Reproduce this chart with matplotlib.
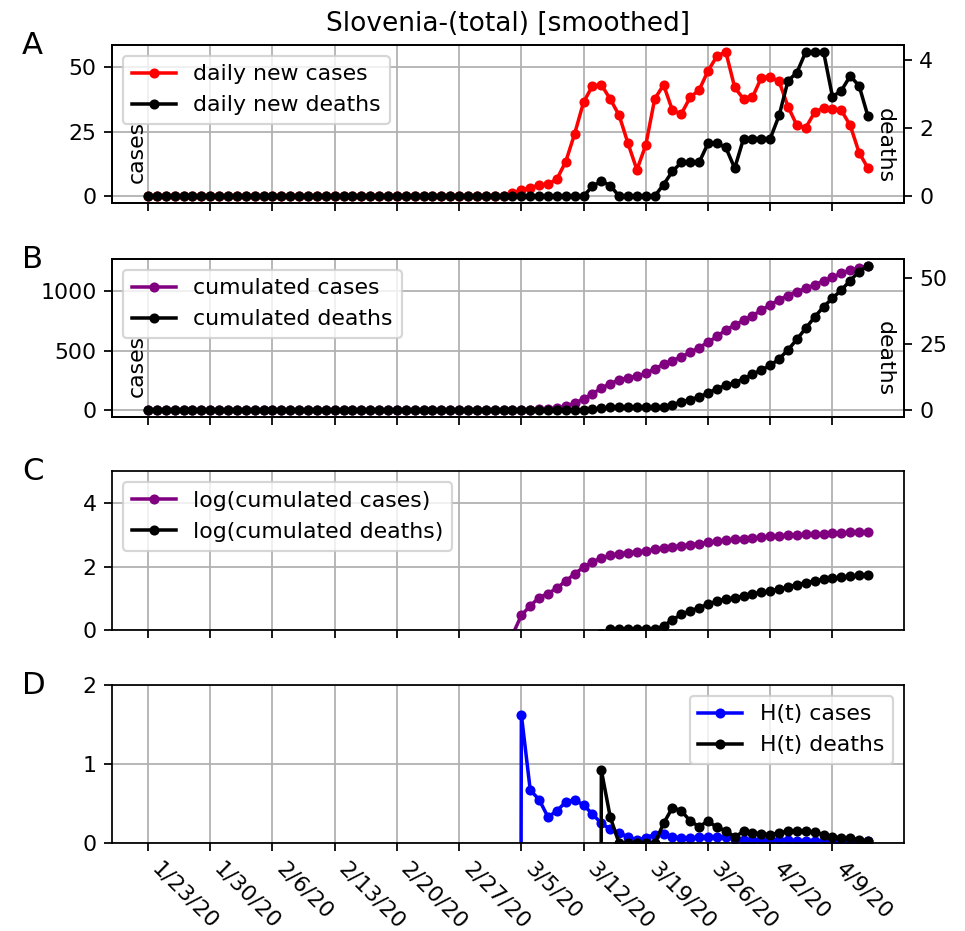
import numpy as np
import pandas as pd
import matplotlib
matplotlib.use('Agg')
import matplotlib.pyplot as plt

# data (one value per day, 1/23/20 .. 4/13/20)
dates = pd.date_range('2020-01-23', '2020-04-13', freq='D')
tick_labels = ['1/23/20', '1/30/20', '2/6/20', '2/13/20', '2/20/20', '2/27/20',
               '3/5/20', '3/12/20', '3/19/20', '3/26/20', '4/2/20', '4/9/20']

new_cases = [0.0] * 41 + [1.2, 2.3, 3.3, 4.2, 4.6, 6.6, 13.4, 24.2, 36.4, 42.7,
                          43.1, 37.6, 31.3, 20.4, 10.2, 19.8, 37.6, 43.1, 33.2, 31.9,
                          38.3, 41.1, 48.5, 54.2, 55.9, 42.1, 37.6, 38.3, 45.9, 46.2,
                          44.4, 34.7, 27.4, 26.5, 32.5, 34.2, 33.8, 33.2, 27.4, 16.8, 10.8]
new_deaths = [0.0] * 50 + [0.29, 0.44, 0.31, 0, 0, 0, 0, 0,
                           0.34, 0.73, 0.99, 0.99, 0.99, 1.55, 1.55, 1.43, 0.82, 1.69,
                           1.69, 1.69, 1.69, 2.37, 3.39, 3.63, 4.24, 4.24, 4.24, 2.92,
                           3.1, 3.53, 3.24, 2.34]

cum_cases = [0.0] * 41 + [0.7, 2.9, 5.8, 10.5, 14, 21, 35, 59, 95, 140,
                          185, 225, 255, 275, 287, 310, 348, 388, 418, 450,
                          487, 528, 572, 622, 675, 718, 756, 796, 842, 888,
                          930, 966, 998, 1026, 1056, 1088, 1120, 1152, 1180, 1200, 1215]
cum_deaths = [0.0] * 50 + [0.29, 0.73, 1.04, 1.04, 1.04, 1.04, 1.04, 1.04,
                           1.35, 2.1, 3.1, 4.0, 5.0, 6.5, 8.1, 9.4, 10.3, 11.9,
                           13.5, 15.3, 16.9, 19.4, 22.8, 26.8, 31.0, 35.2, 39.1, 42.3,
                           45.4, 49.0, 52.4, 54.5]

# H(t); the first value of each series is far below the axis
h_cases = [np.nan] * 41 + [-50.0, 1.62, 0.67, 0.55, 0.33, 0.41, 0.52, 0.55, 0.48, 0.37,
                           0.25, 0.18, 0.13, 0.08, 0.04, 0.07, 0.11, 0.12, 0.08, 0.07,
                           0.07, 0.075, 0.085, 0.085, 0.08, 0.055, 0.045, 0.045, 0.045,
                           0.045, 0.04, 0.04, 0.035, 0.035, 0.035, 0.03, 0.03, 0.03,
                           0.025, 0.025, 0.025]
h_deaths = [np.nan] * 50 + [-50.0, 0.92, 0.33, 0, 0, 0, 0, 0, 0.25, 0.45, 0.41, 0.28,
                            0.21, 0.28, 0.2, 0.16, 0.08, 0.15, 0.13, 0.12, 0.11, 0.13,
                            0.16, 0.15, 0.15, 0.14, 0.11, 0.08, 0.07, 0.07, 0.04, 0.03]

tick_dates = pd.to_datetime(tick_labels, format='%m/%d/%y')

fig = plt.figure(figsize=(965 / 158, 931 / 158), dpi=158)
left, width = 0.1161, 0.8207
bottoms = [0.7816, 0.5516, 0.3233, 0.0942]
height = 0.1705
axs = [fig.add_axes([left, b, width, height]) for b in bottoms]

mk = dict(marker='o', markersize=3.6, linewidth=1.6)

# A: daily new
ax = axs[0]
tw = ax.twinx()
l1 = ax.plot(dates, new_cases, color='red', label='daily new cases', **mk)
l2 = tw.plot(dates, new_deaths, color='black', label='daily new deaths', **mk)
ax.set_yticks([0, 25, 50])
tw.set_yticks([0, 2, 4])
tw.legend(l1 + l2, [l.get_label() for l in l1 + l2], loc='upper left')
ax.set_title('Slovenia-(total) [smoothed]', fontsize=12)
ax.text(0.031, 0.324, 'cases', rotation=90, transform=ax.transAxes, ha='center', va='center')
tw.text(0.976, 0.365, 'deaths', rotation=270, transform=tw.transAxes, ha='center', va='center')

# B: cumulated
ax = axs[1]
tw = ax.twinx()
l1 = ax.plot(dates, cum_cases, color='purple', label='cumulated cases', **mk)
l2 = tw.plot(dates, cum_deaths, color='black', label='cumulated deaths', **mk)
ax.set_yticks([0, 500, 1000])
tw.set_yticks([0, 25, 50])
tw.legend(l1 + l2, [l.get_label() for l in l1 + l2], loc='upper left')
ax.text(0.031, 0.324, 'cases', rotation=90, transform=ax.transAxes, ha='center', va='center')
tw.text(0.976, 0.37, 'deaths', rotation=270, transform=tw.transAxes, ha='center', va='center')

# C: log of cumulated
ax = axs[2]
with np.errstate(divide='ignore'):
    ax.plot(dates, np.log10(cum_cases), color='purple', label='log(cumulated cases)', **mk)
    ax.plot(dates, np.log10(cum_deaths), color='black', label='log(cumulated deaths)', **mk)
ax.set_ylim(0, 5)
ax.set_yticks([0, 2, 4])
ax.legend(loc='upper left')

# D: H(t)
ax = axs[3]
ax.plot(dates, h_cases, color='blue', label='H(t) cases', **mk)
ax.plot(dates, h_deaths, color='black', label='H(t) deaths', **mk)
ax.set_ylim(0, 2)
ax.set_yticks([0, 1, 2])
ax.legend(loc='upper right')

for ax, letter in zip(axs, 'ABCD'):
    ax.set_xticks(tick_dates)
    ax.set_xlim(dates[0] - pd.Timedelta(days=4.05), dates[-1] + pd.Timedelta(days=4.05))
    ax.grid(True)
    ax.text(-0.1136, 0.943, letter, transform=ax.transAxes, fontsize=14,
            ha='left', va='baseline')
    if letter != 'D':
        ax.tick_params(labelbottom=False)
    else:
        ax.set_xticklabels(tick_labels, rotation=-45, ha='left')

fig.savefig('out.png', dpi=158)
